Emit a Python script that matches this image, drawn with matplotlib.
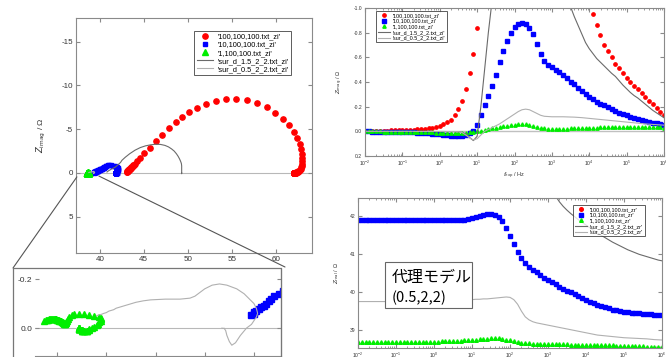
import numpy as np
import matplotlib
matplotlib.use("Agg")
import matplotlib.pyplot as plt
from matplotlib.patches import ConnectionPatch, Rectangle
from matplotlib.ticker import MultipleLocator, LogLocator, NullFormatter, FormatStrFormatter

# Frequency sweep shared by every file: 10 points per decade, 10 mHz .. 1 MHz
FREQ_HZ = np.logspace(-2, 6, 81)

# Each list runs from low to high frequency. *_RE is Z_real, *_NIM is -Z_imag (Ohm)
RED_RE = [62.00, 62.00, 62.00, 62.01, 62.01, 62.02, 62.02, 62.03, 62.03, 62.04,
          62.05, 62.06, 62.07, 62.08, 62.10, 62.12, 62.14, 62.17, 62.20, 62.23,
          62.26, 62.30, 62.35, 62.41, 62.48, 62.56, 62.64, 62.72, 62.80, 62.88,
          62.95, 62.97, 63.00, 63.02, 63.00, 62.90, 62.72, 62.45, 62.05, 61.50,
          60.80, 59.95, 58.95, 57.85, 56.70, 55.50, 54.30, 53.15, 52.05, 51.05,
          50.15, 49.35, 48.60, 47.85, 47.10, 46.35, 45.65, 45.00, 44.55, 44.20,
          44.00, 43.90, 43.81, 43.73, 43.65, 43.60, 43.55, 43.50, 43.46, 43.42,
          43.38, 43.35, 43.32, 43.29, 43.26, 43.23, 43.20, 43.17, 43.14, 43.11,
          43.08]
RED_NIM = [0.003, 0.003, 0.004, 0.004, 0.005, 0.005, 0.006, 0.007, 0.008, 0.009,
           0.010, 0.011, 0.012, 0.014, 0.016, 0.018, 0.021, 0.025, 0.030, 0.037,
           0.045, 0.056, 0.072, 0.095, 0.13, 0.18, 0.25, 0.34, 0.47, 0.63,
           0.84, 1.08, 1.38, 1.75, 2.20, 2.75, 3.35, 4.00, 4.70, 5.45,
           6.20, 6.90, 7.50, 8.00, 8.35, 8.50, 8.45, 8.25, 7.90, 7.45,
           6.95, 6.40, 5.80, 5.10, 4.35, 3.60, 2.90, 2.25, 1.75, 1.35,
           1.08, 0.95, 0.86, 0.78, 0.70, 0.65, 0.60, 0.55, 0.51, 0.47,
           0.43, 0.40, 0.37, 0.34, 0.31, 0.28, 0.25, 0.22, 0.19, 0.16,
           0.13]

BLUE_RE = [41.88, 41.88, 41.88, 41.88, 41.88, 41.88, 41.88, 41.88, 41.88, 41.88,
           41.88, 41.88, 41.88, 41.88, 41.88, 41.88, 41.88, 41.88, 41.88, 41.88,
           41.88, 41.88, 41.88, 41.88, 41.88, 41.88, 41.88, 41.89, 41.90, 41.92,
           41.95, 41.98, 42.01, 42.03, 42.04, 42.04, 42.02, 41.97, 41.86, 41.68,
           41.47, 41.26, 41.06, 40.89, 40.76, 40.67, 40.59, 40.52, 40.45, 40.38,
           40.32, 40.26, 40.20, 40.14, 40.09, 40.04, 39.99, 39.95, 39.90, 39.85,
           39.80, 39.75, 39.71, 39.67, 39.63, 39.60, 39.57, 39.54, 39.52, 39.50,
           39.48, 39.47, 39.46, 39.45, 39.44, 39.43, 39.42, 39.41, 39.40, 39.40,
           39.39]
BLUE_NIM = [-0.001, -0.001, -0.002, -0.002, -0.002, -0.003, -0.003, -0.004, -0.004, -0.005,
            -0.006, -0.007, -0.008, -0.009, -0.010, -0.012, -0.014, -0.016, -0.018, -0.021,
            -0.024, -0.028, -0.032, -0.036, -0.038, -0.038, -0.035, -0.028, -0.016, 0.005,
            0.05, 0.13, 0.21, 0.29, 0.37, 0.46, 0.56, 0.65, 0.73, 0.80,
            0.85, 0.87, 0.88, 0.87, 0.84, 0.79, 0.71, 0.63, 0.57, 0.54,
            0.52, 0.50, 0.48, 0.46, 0.43, 0.40, 0.38, 0.35, 0.33, 0.30,
            0.28, 0.26, 0.24, 0.22, 0.21, 0.195, 0.18, 0.165, 0.15, 0.14,
            0.13, 0.12, 0.11, 0.10, 0.09, 0.085, 0.078, 0.07, 0.064, 0.058,
            0.052]

GREEN_RE = [38.69, 38.69, 38.69, 38.69, 38.69, 38.69, 38.69, 38.69, 38.69, 38.69,
            38.69, 38.69, 38.69, 38.69, 38.70, 38.70, 38.70, 38.70, 38.70, 38.70,
            38.70, 38.70, 38.71, 38.71, 38.71, 38.72, 38.72, 38.72, 38.73, 38.73,
            38.74, 38.75, 38.76, 38.765, 38.77, 38.78, 38.78, 38.78, 38.77, 38.75,
            38.73, 38.71, 38.69, 38.67, 38.66, 38.65, 38.645, 38.64, 38.635, 38.635,
            38.63, 38.63, 38.628, 38.626, 38.624, 38.622, 38.62, 38.618, 38.616, 38.614,
            38.61, 38.608, 38.606, 38.604, 38.602, 38.60, 38.598, 38.596, 38.594, 38.592,
            38.59, 38.587, 38.584, 38.58, 38.576, 38.572, 38.568, 38.563, 38.558, 38.553,
            38.548]
GREEN_NIM = [0.000, 0.000, -0.001, -0.001, -0.001, -0.002, -0.002, -0.002, -0.003, -0.003,
             -0.004, -0.004, -0.005, -0.005, -0.006, -0.007, -0.007, -0.008, -0.009, -0.010,
             -0.011, -0.012, -0.013, -0.014, -0.014, -0.014, -0.013, -0.011, -0.008, -0.004,
             0.001, 0.006, 0.012, 0.018, 0.024, 0.030, 0.036, 0.042, 0.047, 0.051,
             0.054, 0.056, 0.057, 0.056, 0.052, 0.045, 0.037, 0.029, 0.023, 0.019,
             0.017, 0.017, 0.018, 0.019, 0.021, 0.023, 0.024, 0.026, 0.027, 0.028,
             0.029, 0.030, 0.031, 0.032, 0.033, 0.034, 0.034, 0.035, 0.035, 0.036,
             0.036, 0.036, 0.036, 0.036, 0.036, 0.035, 0.035, 0.034, 0.033, 0.032,
             0.030]

# surrogate model curves
SUR15_RE = [49.30, 49.30, 49.30, 49.30, 49.30, 49.30, 49.30, 49.30, 49.30, 49.30,
            49.30, 49.30, 49.30, 49.30, 49.30, 49.30, 49.30, 49.30, 49.30, 49.30,
            49.30, 49.30, 49.30, 49.30, 49.30, 49.30, 49.30, 49.30, 49.30, 49.30,
            49.30, 49.30, 49.30, 49.30, 49.27, 49.22, 49.15, 49.05, 48.90, 48.70,
            48.45, 48.15, 47.80, 47.40, 46.90, 46.35, 45.80, 45.20, 44.60, 44.00,
            43.40, 42.90, 42.52, 42.37, 42.25, 42.15, 42.06, 41.98, 41.90, 41.83,
            41.76, 41.69, 41.62, 41.55, 41.49, 41.43, 41.37, 41.31, 41.26, 41.21,
            41.16, 41.11, 41.07, 41.03, 40.99, 40.96, 40.93, 40.90, 40.87, 40.84,
            40.82]
SUR15_NIM = [0.000, 0.000, 0.000, 0.000, 0.000, 0.000, 0.000, 0.000, 0.000, 0.000,
             0.000, 0.000, 0.000, -0.001, -0.001, -0.001, -0.001, -0.001, -0.002, -0.002,
             -0.002, -0.002, -0.003, -0.003, -0.003, -0.004, -0.008, -0.020, -0.050, -0.075,
             -0.040, 0.20, 0.50, 0.80, 1.06, 1.22, 1.40, 1.62, 1.90, 2.20,
             2.50, 2.75, 2.98, 3.15, 3.26, 3.28, 3.22, 3.10, 2.90, 2.60,
             2.20, 1.80, 1.45, 1.22, 1.10, 1.01, 0.93, 0.86, 0.79, 0.72,
             0.67, 0.63, 0.59, 0.56, 0.53, 0.50, 0.47, 0.445, 0.41, 0.375,
             0.345, 0.315, 0.29, 0.27, 0.245, 0.22, 0.195, 0.17, 0.15, 0.13,
             0.11]

SUR05_RE = [39.27, 39.27, 39.27, 39.27, 39.27, 39.27, 39.27, 39.27, 39.27, 39.27,
            39.27, 39.27, 39.27, 39.27, 39.272, 39.274, 39.276, 39.278, 39.28, 39.28,
            39.28, 39.28, 39.28, 39.28, 39.28, 39.28, 39.285, 39.29, 39.30, 39.31,
            39.325, 39.345, 39.37, 39.39, 39.40, 39.41, 39.415, 39.41, 39.40, 39.38,
            39.36, 39.33, 39.29, 39.26, 39.23, 39.20, 39.18, 39.16, 39.14, 39.12,
            39.10, 39.08, 39.06, 39.04, 39.02, 39.00, 38.98, 38.965, 38.95, 38.935,
            38.92, 38.91, 38.90, 38.89, 38.88, 38.87, 38.86, 38.85, 38.84, 38.835,
            38.83, 38.82, 38.81, 38.805, 38.80, 38.79, 38.785, 38.78, 38.77, 38.765,
            38.76]
SUR05_NIM = [0.000, 0.000, 0.000, 0.000, 0.000, 0.000, 0.000, 0.000, 0.000, 0.000,
             0.000, 0.000, 0.000, 0.000, -0.001, -0.001, -0.001, -0.001, -0.001, -0.001,
             -0.001, -0.001, -0.002, -0.002, -0.002, -0.003, -0.010, -0.030, -0.055, -0.070,
             -0.060, -0.030, 0.000, 0.015, 0.030, 0.045, 0.060, 0.080, 0.100, 0.120,
             0.140, 0.160, 0.175, 0.180, 0.175, 0.160, 0.145, 0.130, 0.122, 0.120,
             0.118, 0.118, 0.118, 0.118, 0.117, 0.116, 0.115, 0.113, 0.111, 0.108,
             0.105, 0.102, 0.099, 0.096, 0.093, 0.090, 0.087, 0.084, 0.081, 0.078,
             0.075, 0.072, 0.069, 0.066, 0.063, 0.060, 0.058, 0.056, 0.054, 0.052,
             0.050]
# real part from the *_zr file of the 0.5 model
SUR05_ZR = [39.75, 39.75, 39.75, 39.75, 39.75, 39.75, 39.75, 39.75, 39.75, 39.75,
            39.75, 39.75, 39.75, 39.75, 39.76, 39.76, 39.76, 39.76, 39.77, 39.77,
            39.77, 39.77, 39.78, 39.78, 39.78, 39.79, 39.79, 39.79, 39.80, 39.80,
            39.80, 39.81, 39.81, 39.82, 39.82, 39.83, 39.84, 39.85, 39.86, 39.87,
            39.86, 39.80, 39.68, 39.50, 39.35, 39.27, 39.22, 39.19, 39.17, 39.15,
            39.13, 39.11, 39.09, 39.07, 39.05, 39.03, 39.01, 38.99, 38.97, 38.95,
            38.93, 38.91, 38.89, 38.87, 38.86, 38.85, 38.84, 38.83, 38.82, 38.81,
            38.80, 38.795, 38.79, 38.785, 38.78, 38.775, 38.77, 38.76, 38.75, 38.745,
            38.74]

MEASURED = [("100,100,100.txt", RED_RE, RED_NIM, "o", "#ff0000"),
            ("10,100,100.txt", BLUE_RE, BLUE_NIM, "s", "#0000ff"),
            ("1,100,100.txt", GREEN_RE, GREEN_NIM, "^", "#00ee00")]
MODELS = [("sur_d_1.5_2_2.txt", SUR15_RE, SUR15_NIM, "#6a6a6a"),
          ("sur_d_0.5_2_2.txt", SUR05_RE, SUR05_NIM, "#b0b0b0")]

W, H = 666, 357
FRAME = "#8a8a8a"


def px_axes(fig, left, top, right, bottom):
    """Add an axes given its box in pixels measured from the top-left corner."""
    return fig.add_axes([left / W, 1 - bottom / H, (right - left) / W, (bottom - top) / H])


def style_axes(ax, size):
    for spine in ax.spines.values():
        spine.set_color(FRAME)
        spine.set_linewidth(0.8)
    ax.tick_params(which="both", direction="in", top=True, right=True,
                   color=FRAME, labelcolor="#333333", labelsize=size, pad=2)
    ax.tick_params(which="major", length=3)
    ax.tick_params(which="minor", length=1.5)


def small_legend(ax, suffix, size, anchor):
    leg = ax.legend(loc="upper left", bbox_to_anchor=anchor, bbox_transform=ax.figure.transFigure,
                    fontsize=size, frameon=True, fancybox=False, borderpad=0.35,
                    labelspacing=0.12, handlelength=2.2, handletextpad=0.6, borderaxespad=0)
    leg.get_frame().set_edgecolor("#333333")
    leg.get_frame().set_linewidth(0.7)
    for text in leg.get_texts():
        text.set_text("'" + text.get_text() + suffix + "'")
    return leg


def draw_nyquist(fig):
    ax = px_axes(fig, 76, 18, 312, 253)
    ax.axhline(0, color="#b8b8b8", lw=0.8, zorder=0)
    for name, re, nim, marker, color in MEASURED:
        ms = {"o": 3.8, "s": 3.0, "^": 4.4}[marker]
        ax.plot(re, -np.asarray(nim), ls="none", marker=marker, ms=ms, color=color, mec=color, label=name)
    for name, re, nim, color in MODELS:
        ax.plot(re, -np.asarray(nim), color=color, lw=0.8, label=name)
    ax.set_xlim(37.3, 64.1)
    ax.set_ylim(9.14, -17.7)
    ax.xaxis.set_major_locator(MultipleLocator(5))
    ax.yaxis.set_major_locator(MultipleLocator(5))
    style_axes(ax, 5.8)
    ax.set_ylabel(r"$Z_{\rm imag}$ / Ω", fontsize=6, color="#333333", labelpad=10)
    small_legend(ax, "_zi", 5.3, (194 / W, 1 - 31 / H))

    # magnified view of the high-frequency end
    frame = Rectangle((13 / W, 1 - 358 / H), (281 - 13) / W, (358 - 268) / H, transform=fig.transFigure,
                      fill=False, edgecolor="#777777", lw=0.9)
    fig.add_artist(frame)
    ins = px_axes(fig, 35, 268, 281, 356)
    ins.axhline(0, color="#b8b8b8", lw=0.8, zorder=0)
    for name, re, nim, marker, color in MEASURED:
        ins.plot(re, -np.asarray(nim), ls="none", marker=marker, ms=5, color=color, mec=color)
    for name, re, nim, color in MODELS:
        ins.plot(re, -np.asarray(nim), color=color, lw=0.8)
    ins.set_xlim(38.51, 39.51)
    ins.set_ylim(0.114, -0.245)
    ins.xaxis.set_major_locator(MultipleLocator(0.2))
    ins.yaxis.set_major_locator(MultipleLocator(0.2))
    ins.yaxis.set_major_formatter(FormatStrFormatter("%.1f"))
    style_axes(ins, 6)
    ins.tick_params(labelbottom=False, top=False)
    ins.spines["left"].set_visible(False)
    ins.spines["top"].set_visible(False)

    # connectors from the main plot to the corners of the magnified view
    for xy, corner in (((37.4, 0.45), (13 / W, 1 - 268 / H)), ((39.9, 0.35), (285 / W, 1 - 267 / H))):
        con = ConnectionPatch(xyA=xy, coordsA=ax.transData, xyB=corner, coordsB=fig.transFigure,
                              color="#555555", lw=0.8)
        fig.add_artist(con)


def bode_axes(fig, box):
    ax = px_axes(fig, *box)
    ax.set_xscale("log")
    ax.set_xlim(1e-2, 1e6)
    ax.xaxis.set_major_locator(LogLocator(base=10, numticks=20))
    ax.xaxis.set_minor_locator(LogLocator(base=10, subs=np.arange(2, 10), numticks=20))
    ax.xaxis.set_minor_formatter(NullFormatter())
    style_axes(ax, 3.6)
    return ax


def draw_bode(fig):
    # imaginary part against frequency
    ax = bode_axes(fig, (365, 8, 664, 156))
    ax.axhline(0, color="#c0c0c0", lw=1.0, zorder=0)
    for name, re, nim, marker, color in MEASURED:
        ax.plot(FREQ_HZ, -np.asarray(nim), ls="none", marker=marker, ms=2.4, color=color, mec=color, label=name)
    for name, re, nim, color in MODELS:
        ax.plot(FREQ_HZ, -np.asarray(nim), color=color, lw=0.8, label=name)
    ax.set_ylim(0.2, -1.0)
    ax.yaxis.set_major_locator(MultipleLocator(0.2))
    ax.yaxis.set_major_formatter(FormatStrFormatter("%.1f"))
    ax.set_ylabel(r"$Z_{\rm imag}$ / Ω", fontsize=4, color="#333333", labelpad=6)
    ax.set_xlabel(r"$f_{\rm exp}$ / Hz", fontsize=4, color="#333333", labelpad=2)
    small_legend(ax, "_zi", 3.9, (376 / W, 1 - 11 / H))

    # real part against frequency
    ax = bode_axes(fig, (358, 198, 662, 348))
    real_parts = [RED_RE, BLUE_RE, GREEN_RE]
    for (name, re, nim, marker, color), zr in zip(MEASURED, real_parts):
        ax.plot(FREQ_HZ, zr, ls="none", marker=marker, ms=2.6, color=color, mec=color, label=name)
    for (name, re, nim, color), zr in zip(MODELS, [SUR15_RE, SUR05_ZR]):
        ax.plot(FREQ_HZ, zr, color=color, lw=0.8, label=name)
    ax.set_ylim(38.53, 42.47)
    ax.yaxis.set_major_locator(MultipleLocator(1))
    ax.set_ylabel(r"$Z_{\rm real}$ / Ω", fontsize=4, color="#333333", labelpad=6)
    small_legend(ax, "_zr", 3.9, (573 / W, 1 - 205 / H))

    box = Rectangle((385 / W, 1 - 308 / H), (472 - 385) / W, (308 - 262) / H, transform=fig.transFigure,
                    facecolor="white", edgecolor="#666666", lw=0.8, zorder=5)
    fig.add_artist(box)
    fig.text(392 / W, 1 - 277 / H, "代理モデル", family=["Noto Sans CJK JP", "DejaVu Sans"],
             fontsize=11.5, va="center", ha="left", zorder=6)
    fig.text(392 / W, 1 - 298 / H, "(0.5,2,2)", family=["Noto Sans CJK JP", "DejaVu Sans"],
             fontsize=10.5, va="center", ha="left", zorder=6)


def main():
    plt.rcParams["font.family"] = ["Liberation Sans", "DejaVu Sans"]
    plt.rcParams["axes.unicode_minus"] = False
    fig = plt.figure(figsize=(W / 100, H / 100), dpi=100)
    draw_nyquist(fig)
    draw_bode(fig)
    fig.savefig("out.png", dpi=100)


if __name__ == "__main__":
    main()
